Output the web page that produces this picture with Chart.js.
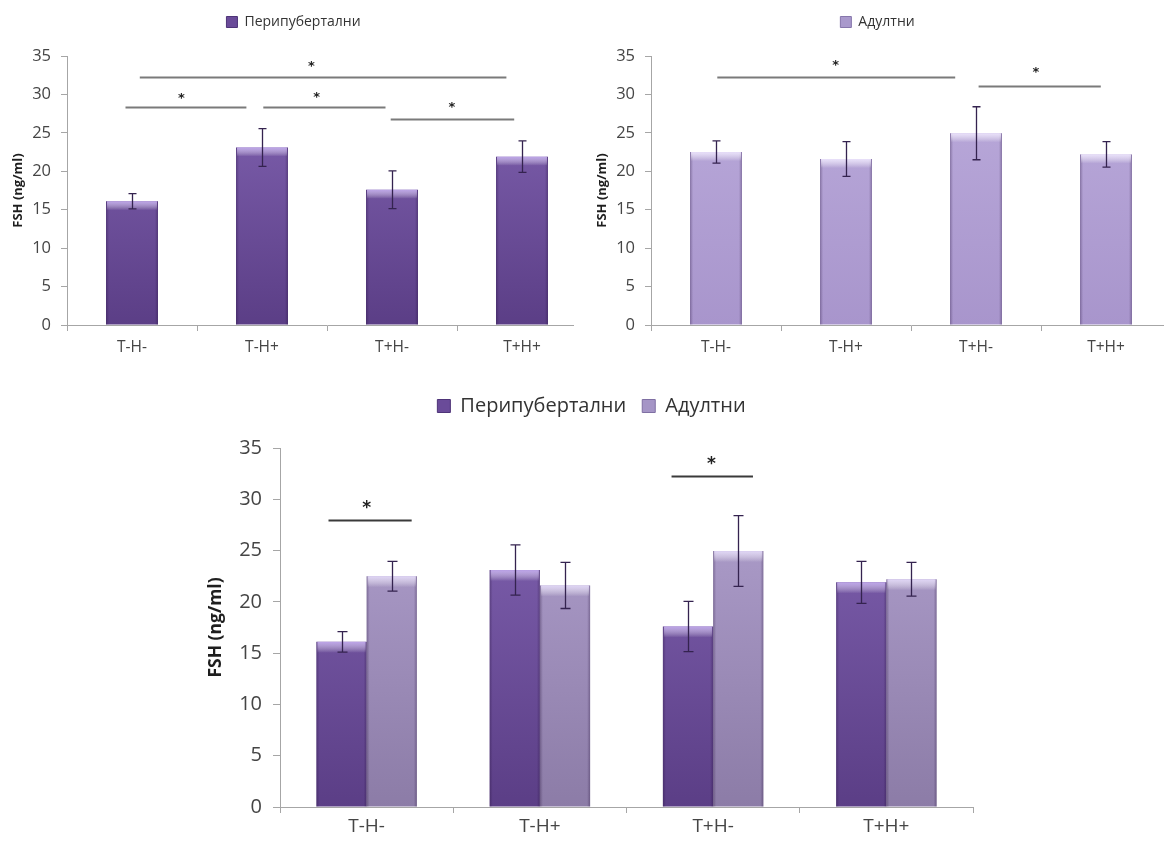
<!DOCTYPE html>
<html>
<head>
<meta charset="utf-8">
<script src="https://cdn.jsdelivr.net/npm/chart.js@4.4.0/dist/chart.umd.min.js"></script>
<style>
html, body { margin: 0; padding: 0; background: #ffffff; width: 1164px; height: 846px; overflow: hidden; position: relative; }
.box { position: absolute; overflow: hidden; }
.box canvas { position: absolute; top: 0; }
</style>
</head>
<body>
<div class="box" style="left:0px;top:0px;width:574px;height:370px"><canvas id="c1" width="592" height="370" style="left:0px;width:592px;height:370px"></canvas></div>
<div class="box" style="left:580px;top:0px;width:584px;height:370px"><canvas id="c2" width="592" height="370" style="left:4px;width:592px;height:370px"></canvas></div>
<div class="box" style="left:180px;top:380px;width:830px;height:466px"><canvas id="c3" width="802" height="466" style="left:10px;width:802px;height:466px"></canvas></div>
<script>
// ---------------- data ----------------
const categories = ['T-H-', 'T-H+', 'T+H-', 'T+H+'];
const seriesNames = ['Перипубертални', 'Адултни'];
const periMean  = [16.1, 23.1, 17.6, 21.9];
const periErr   = [1.0, 2.45, 2.45, 2.05];
const adultMean = [22.5, 21.6, 24.95, 22.2];
const adultErr  = [1.45, 2.25, 3.45, 1.65];
const yMin = 0, yMax = 35, yStep = 5;
const yTitle = 'FSH (ng/ml)';
// significance brackets: [fromCategoryIndex, toCategoryIndex, value]
const periSigLines  = [[-0.05, 0.88, 28.4], [1.01, 1.95, 28.4], [1.99, 2.94, 26.8], [0.06, 2.88, 32.3]];
const periSigStars  = [[0.38, 30.0], [1.42, 30.1], [2.46, 28.8], [1.38, 34.2]];
const adultSigLines = [[0.01, 1.84, 32.3], [2.02, 2.96, 31.1]];
const adultSigStars = [[0.92, 34.3], [2.46, 33.4]];
const groupSigLines = [[-0.22, 0.26, 28.0], [1.76, 2.23, 32.3]];
const groupSigStars = [[0.0, 29.6], [1.99, 33.9]];

// ---------------- style ----------------
Chart.defaults.font.family = "'Open Sans', 'Noto Sans', sans-serif";
Chart.defaults.animation = false;
const axisColor = '#a6a6a6';
const tickColor = '#454545';

function vGrad(top, bottom) {
  return (c) => {
    const chart = c.chart; const a = chart.chartArea;
    if (!a) return bottom;
    const g = chart.ctx.createLinearGradient(0, a.top, 0, a.bottom);
    g.addColorStop(0, top); g.addColorStop(1, bottom);
    return g;
  };
}

const legendHeightPlugin = {
  id: 'legendHeight',
  beforeLayout(chart, args, opts) {
    const lg = chart.legend;
    if (!lg || lg._patched) return;
    const fit = lg.fit;
    lg.fit = function () { fit.call(this); this.height = opts.height; };
    lg._patched = true;
  }
};

const decorPlugin = {
  id: 'decor',
  afterDatasetsDraw(chart, args, o) {
    const ctx = chart.ctx, xs = chart.scales.x, ys = chart.scales.y;
    chart.data.datasets.forEach((ds, di) => {
      const meta = chart.getDatasetMeta(di);
      meta.data.forEach((bar) => {
        const p = bar.getProps(['x', 'y', 'width', 'base'], true);
        const l = p.x - p.width / 2, r = p.x + p.width / 2;
        ctx.save();
        const gs = ctx.createLinearGradient(l, 0, r, 0);
        gs.addColorStop(0, 'rgba(30,10,50,0.30)');
        gs.addColorStop(0.06, 'rgba(30,10,50,0.0)');
        gs.addColorStop(0.94, 'rgba(30,10,50,0.0)');
        gs.addColorStop(1, 'rgba(30,10,50,0.30)');
        ctx.fillStyle = gs;
        ctx.fillRect(l, p.y, p.width, p.base - p.y);
        const gt = ctx.createLinearGradient(0, p.y, 0, p.y + o.bevel);
        gt.addColorStop(0, ds.bevelColor);
        gt.addColorStop(1, 'rgba(255,255,255,0)');
        ctx.fillStyle = gt;
        ctx.fillRect(l + 1, p.y, p.width - 2, o.bevel);
        ctx.restore();
      });
    });
    // error bars
    ctx.save();
    ctx.strokeStyle = o.errColor;
    ctx.lineWidth = 1.3;
    chart.data.datasets.forEach((ds, di) => {
      const meta = chart.getDatasetMeta(di);
      meta.data.forEach((bar, i) => {
        const x = Math.round(bar.x) + 0.5;
        const yt = ys.getPixelForValue(ds.data[i] + ds.errorBars[i]);
        const yb = ys.getPixelForValue(ds.data[i] - ds.errorBars[i]);
        ctx.beginPath();
        ctx.moveTo(x, yt); ctx.lineTo(x, yb);
        ctx.moveTo(x - o.capW / 2, yt); ctx.lineTo(x + o.capW / 2, yt);
        ctx.moveTo(x - o.capW / 2, yb); ctx.lineTo(x + o.capW / 2, yb);
        ctx.stroke();
      });
    });
    ctx.restore();
    // significance
    ctx.save();
    ctx.strokeStyle = o.lineColor;
    ctx.lineWidth = o.lineWidth;
    o.lines.forEach(([a, b, v]) => {
      const yy = Math.round(ys.getPixelForValue(v)) + 0.5;
      ctx.beginPath();
      ctx.moveTo(xs.getPixelForValue(a), yy);
      ctx.lineTo(xs.getPixelForValue(b), yy);
      ctx.stroke();
    });
    ctx.fillStyle = o.starColor;
    ctx.font = 'bold ' + o.starSize + "px 'DejaVu Sans', sans-serif";
    ctx.textAlign = 'center';
    ctx.textBaseline = 'alphabetic';
    o.stars.forEach(([a, v]) => {
      ctx.fillText('*', xs.getPixelForValue(a), ys.getPixelForValue(v) + o.starSize * 0.58);
    });
    ctx.restore();
  }
};

function buildScales(s) {
  return {
    x: {
      type: 'category', offset: true,
      grid: { display: true, drawOnChartArea: false, drawTicks: true, tickLength: s.xTick, color: axisColor, offset: true },
      border: { display: true, color: axisColor, width: 1 },
      ticks: { font: { size: s.xFont }, color: tickColor, padding: s.xPad, maxRotation: 0, autoSkip: false },
      afterFit: (sc) => { sc.height = s.xH; }
    },
    y: {
      min: yMin, max: yMax,
      ticks: { stepSize: yStep, font: { size: s.yFont }, color: tickColor, padding: s.yPad },
      grid: { drawOnChartArea: false, drawTicks: true, tickLength: s.yTick, color: axisColor },
      border: { display: true, color: axisColor, width: 1 },
      title: { display: true, text: yTitle, font: { size: s.tFont, weight: 'bold' }, color: '#1e1e1e', padding: { top: s.tPad, bottom: 0 } },
      afterFit: (sc) => { sc.width = s.yW; }
    }
  };
}

function legendOpts(fontSize, pad, boxSize) {
  return {
    display: true, position: 'top', align: 'center',
    labels: {
      font: { size: fontSize }, color: '#333333', padding: pad, boxWidth: boxSize, boxHeight: boxSize,
      generateLabels: (chart) => chart.data.datasets.map((ds, i) => ({
        text: ds.label, fillStyle: ds.legendColor, strokeStyle: ds.legendEdge, lineWidth: 1,
        hidden: false, datasetIndex: i, fontColor: '#333333'
      }))
    }
  };
}

function periDataset() {
  return {
    label: seriesNames[0], data: periMean, errorBars: periErr,
    backgroundColor: vGrad('#8567b6', '#5b3e86'), borderWidth: 0,
    legendColor: '#6a4b99', legendEdge: '#4e3478',
    bevelColor: 'rgba(196,172,240,0.9)'
  };
}

const topScales = { xTick: 6, xFont: 15.5, xPad: 7, xH: 45, yFont: 16.5, yPad: 10, yTick: 6, tFont: 13, tPad: 10, yW: 67 };

// ---------- chart 1: Перипубертални ----------
new Chart(document.getElementById('c1'), {
  type: 'bar',
  data: { labels: categories, datasets: [periDataset()] },
  options: {
    responsive: false, devicePixelRatio: 1,
    layout: { padding: { left: 0, right: 5, top: 0, bottom: 0 } },
    datasets: { bar: { categoryPercentage: 0.4, barPercentage: 1 } },
    scales: buildScales(topScales),
    plugins: {
      legend: legendOpts(14, 15, 11),
      legendHeight: { height: 56 },
      tooltip: { enabled: false },
      decor: { lines: periSigLines, stars: periSigStars, lineColor: '#7a7a7a', lineWidth: 2, starColor: '#222', starSize: 13, capW: 8, errColor: '#34234f', bevel: 9 }
    }
  },
  plugins: [legendHeightPlugin, decorPlugin]
});

// ---------- chart 2: Адултни ----------
new Chart(document.getElementById('c2'), {
  type: 'bar',
  data: {
    labels: categories,
    datasets: [{
      label: seriesNames[1], data: adultMean, errorBars: adultErr,
      backgroundColor: vGrad('#bcacdc', '#a895cc'), borderWidth: 0,
      legendColor: '#a999cc', legendEdge: '#8676ab',
      bevelColor: 'rgba(236,228,252,0.95)'
    }]
  },
  options: {
    responsive: false, devicePixelRatio: 1,
    layout: { padding: { left: 0, right: 5, top: 0, bottom: 0 } },
    datasets: { bar: { categoryPercentage: 0.4, barPercentage: 1 } },
    scales: buildScales(topScales),
    plugins: {
      legend: legendOpts(14, 15, 11),
      legendHeight: { height: 56 },
      tooltip: { enabled: false },
      decor: { lines: adultSigLines, stars: adultSigStars, lineColor: '#7a7a7a', lineWidth: 2, starColor: '#222', starSize: 13, capW: 8, errColor: '#34234f', bevel: 9 }
    }
  },
  plugins: [legendHeightPlugin, decorPlugin]
});

// ---------- chart 3: both groups ----------
new Chart(document.getElementById('c3'), {
  type: 'bar',
  data: {
    labels: categories,
    datasets: [
      periDataset(),
      {
        label: seriesNames[1], data: adultMean, errorBars: adultErr,
        backgroundColor: vGrad('#b4a4d2', '#8c7ca7'), borderWidth: 0,
        legendColor: '#a595c6', legendEdge: '#7f6fa3',
        bevelColor: 'rgba(226,216,248,0.95)'
      }
    ]
  },
  options: {
    responsive: false, devicePixelRatio: 1,
    layout: { padding: { left: 20, right: 19, top: 0, bottom: 0 } },
    datasets: { bar: { categoryPercentage: 0.58, barPercentage: 1 } },
    scales: buildScales({ xTick: 6, xFont: 19, xPad: 2, xH: 39, yFont: 20, yPad: 11, yTick: 7, tFont: 17.5, tPad: -4, yW: 70 }),
    plugins: {
      legend: legendOpts(20, 16, 13),
      legendHeight: { height: 68 },
      tooltip: { enabled: false },
      decor: { lines: groupSigLines, stars: groupSigStars, lineColor: '#3a3a3a', lineWidth: 2, starColor: '#222', starSize: 17, capW: 10, errColor: '#34234f', bevel: 11 }
    }
  },
  plugins: [legendHeightPlugin, decorPlugin]
});
</script>
</body>
</html>
